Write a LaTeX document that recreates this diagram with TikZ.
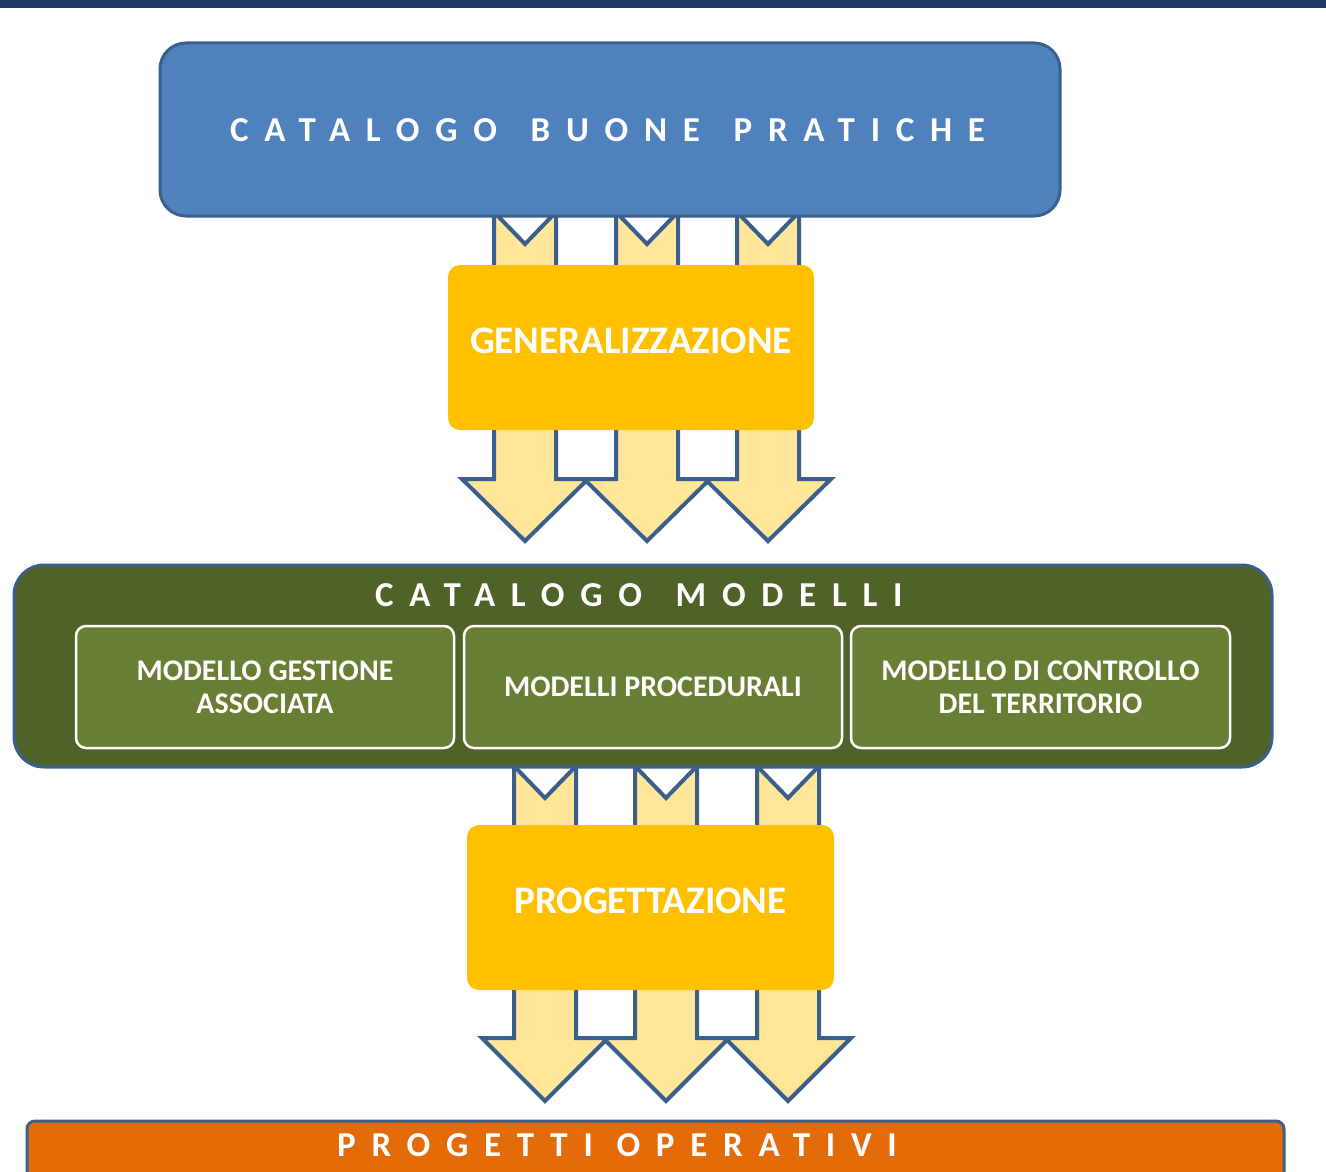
\documentclass[tikz,border=0pt]{standalone}
\usepackage{fontspec}
\setmainfont{Carlito}
\newfontfamily\trackfont[LetterSpace=45]{Carlito}
\definecolor{navy}{HTML}{1F3864}
\definecolor{boxblue}{HTML}{4F81BD}
\definecolor{edgeblue}{HTML}{3B5F8D}
\definecolor{arrowfill}{HTML}{FFE699}
\definecolor{gold}{HTML}{FFC000}
\definecolor{olive}{HTML}{4F6228}
\definecolor{olivelight}{HTML}{677E34}
\definecolor{orangebox}{HTML}{E36C09}
\tikzset{
  blockarrow/.style={fill=arrowfill, draw=edgeblue, line width=4pt, line join=miter},
  goldbox/.style={fill=gold, rounded corners=12pt, inner sep=0pt},
  goldtext/.style={text=white, inner sep=0pt, font=\bfseries\fontsize{39}{42}\selectfont},
  subbox/.style={fill=olivelight, draw=white, line width=2.5pt, rounded corners=10pt,
     align=center, text=white, font=\bfseries\fontsize{30}{33}\selectfont},
  title/.style={text=white, inner sep=0pt, anchor=west,
     font=\trackfont\bfseries\fontsize{35}{40}\selectfont},
}
\newcommand\wsp{\hspace{10pt}}
\newcommand\blkarrow[4]{% center x, tail top y, shoulder y, tip y
  \draw[blockarrow] ({#1-31},#2) -- (#1,{#2+32}) -- ({#1+31},#2) -- ({#1+31},#3)
     -- ({#1+63},#3) -- (#1,#4) -- ({#1-63},#3) -- ({#1-31},#3) -- cycle;}
\begin{document}
\begin{tikzpicture}[x=1pt,y=-1pt]
\clip (0,0) rectangle (1326,1172);
\fill[white] (0,0) rectangle (1326,1172);
\fill[navy] (0,0) rectangle (1326,8);

% block arrows (behind boxes)
\blkarrow{525}{212}{479}{541}
\blkarrow{647}{212}{479}{541}
\blkarrow{768}{212}{479}{541}
\blkarrow{545}{766}{1038}{1101}
\blkarrow{666}{766}{1038}{1101}
\blkarrow{788}{766}{1038}{1101}

% top box
\node[draw=edgeblue, fill=boxblue, line width=3pt, rounded corners=26pt,
      minimum width=900pt, minimum height=173pt, inner sep=0pt] (cbp) at (610,129.5) {};
\node[title] (cbpt) at (230,130) {CATALOGO \wsp BUONE \wsp PRATICHE};

% generalizzazione
\node[goldbox, minimum width=366pt, minimum height=165pt] (gen) at (631,347.5) {};
\node[goldtext] (gent) at (631,341) {GENERALIZZAZIONE};

% catalogo modelli
\node[draw=edgeblue, fill=olive, line width=3pt, rounded corners=30pt,
      minimum width=1258pt, minimum height=202pt, inner sep=0pt] (cm) at (643,666) {};
\node[title] (cmt) at (375,595) {CATALOGO \wsp MODELLI};
\node[subbox, minimum width=378pt, minimum height=122pt] (m1) at (265,687) {MODELLO GESTIONE\\ASSOCIATA};
\node[subbox, minimum width=378pt, minimum height=122pt] (m2) at (653,687) {MODELLI PROCEDURALI};
\node[subbox, minimum width=379pt, minimum height=122pt] (m3) at (1040.5,687) {MODELLO DI CONTROLLO\\DEL TERRITORIO};

% progettazione
\node[goldbox, minimum width=367pt, minimum height=165pt] (prog) at (650.5,907.5) {};
\node[goldtext] (progt) at (650.5,901) {PROGETTAZIONE};

% progetti operativi
\node[draw=edgeblue, fill=orangebox, line width=3pt, rounded corners=8pt,
      minimum width=1257pt, minimum height=90pt, inner sep=0pt] (po) at (655.5,1166) {};
\node[title] (pot) at (337,1145) {PROGETTI OPERATIVI};
\end{tikzpicture}
\end{document}
